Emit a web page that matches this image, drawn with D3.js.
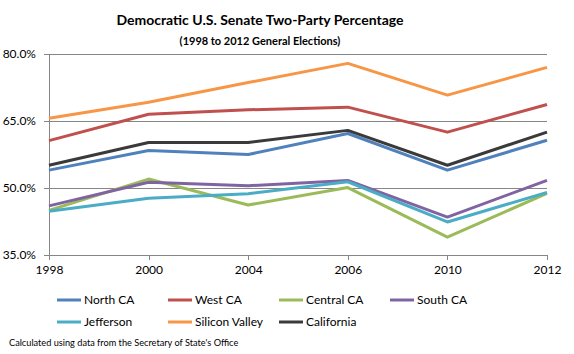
<!DOCTYPE html>
<html>
<head>
<meta charset="utf-8">
<script src="https://cdn.jsdelivr.net/npm/d3@7"></script>
<style>
  body { margin: 0; background: #fff; }
  svg { display: block; font-family: "Lato", sans-serif; }
</style>
</head>
<body>
<div id="chart"></div>
<script>
const width = 574;
const height = 354;

// election years (categories, evenly spaced)
const years = ["1998", "2000", "2004", "2006", "2010", "2012"];
const yTicks = [35, 50, 65, 80];

// series values
const seriesNames = ["North CA", "West CA", "Central CA", "South CA", "Jefferson", "Silicon Valley", "California"];
const northCA = [54.0, 58.4, 57.5, 62.2, 54.0, 60.7];
const westCA = [60.6, 66.5, 67.5, 68.1, 62.5, 68.7];
const centralCA = [45.0, 52.0, 46.2, 50.1, 39.0, 48.8];
const southCA = [46.0, 51.3, 50.5, 51.7, 43.5, 51.7];
const jefferson = [44.8, 47.7, 48.7, 51.4, 42.4, 49.0];
const siliconValley = [65.6, 69.2, 73.6, 77.9, 70.8, 77.0];
const california = [55.1, 60.2, 60.2, 62.9, 55.1, 62.5];
const seriesValues = [northCA, westCA, centralCA, southCA, jefferson, siliconValley, california];
const colors = ["#4F81BD", "#C0504D", "#9BBB59", "#8064A2", "#4BACC6", "#F79646", "#3A3A3A"];

const margin = { left: 49, right: 27, top: 54, bottom: 99 };

const svg = d3.select("#chart").append("svg")
  .attr("width", width)
  .attr("height", height);

const x = d3.scalePoint()
  .domain(years)
  .range([margin.left, width - margin.right]);

const y = d3.scaleLinear()
  .domain([35, 80])
  .range([height - margin.bottom, margin.top]);

// Titles
svg.append("text")
  .attr("x", 260).attr("y", 25)
  .attr("text-anchor", "middle")
  .style("font-size", "14px").style("font-weight", "bold")
  .attr("fill", "#000")
  .text("Democratic U.S. Senate Two-Party Percentage");

svg.append("text")
  .attr("x", 260).attr("y", 45)
  .attr("text-anchor", "middle")
  .style("font-size", "11px").style("font-weight", "bold")
  .attr("fill", "#000")
  .text("(1998 to 2012 General Elections)");

// Gridlines
svg.append("g")
  .selectAll("line")
  .data(yTicks.filter(d => d > 35))
  .join("line")
  .attr("x1", margin.left).attr("x2", width - margin.right)
  .attr("y1", d => y(d)).attr("y2", d => y(d))
  .attr("stroke", "#868686").attr("stroke-width", 1)
  .attr("shape-rendering", "crispEdges");

// Y axis
const yAxis = svg.append("g")
  .attr("transform", `translate(${margin.left},0)`)
  .call(d3.axisLeft(y).tickValues(yTicks).tickSize(5).tickPadding(8)
    .tickFormat(d => d.toFixed(1) + "%"));

// X axis
const xAxis = svg.append("g")
  .attr("transform", `translate(0,${height - margin.bottom})`)
  .call(d3.axisBottom(x).tickSize(5).tickPadding(5).tickSizeOuter(0));

[yAxis, xAxis].forEach(ax => {
  ax.select(".domain").attr("stroke", "#868686").attr("shape-rendering", "crispEdges");
  ax.selectAll(".tick line").attr("stroke", "#868686").attr("shape-rendering", "crispEdges");
  ax.selectAll("text").attr("fill", "#000").style("font-size", "12px")
    .style("font-family", "\"Lato\", sans-serif");
});
yAxis.select(".domain").attr("d", `M0,${y(80)}V${y(35)}`);

// Lines
const line = d3.line()
  .x((d, i) => x(years[i]))
  .y(d => y(d));

svg.append("g")
  .selectAll("path")
  .data(seriesValues)
  .join("path")
  .attr("d", line)
  .attr("fill", "none")
  .attr("stroke", (d, i) => colors[i])
  .attr("stroke-width", 3)
  .attr("stroke-linejoin", "round");

// Legend (4 per row)
const legend = svg.append("g");
const item = legend.selectAll("g")
  .data(seriesNames)
  .join("g")
  .attr("transform", (d, i) => `translate(${57 + (i % 4) * 111},${300 + Math.floor(i / 4) * 22})`);

item.append("line")
  .attr("x1", 0).attr("x2", 24)
  .attr("stroke", (d, i) => colors[i])
  .attr("stroke-width", 3);

item.append("text")
  .attr("x", 27).attr("dy", "0.35em")
  .style("font-size", "12px")
  .attr("fill", "#000")
  .text(d => d);

// Footnote
svg.append("text")
  .attr("x", 9).attr("y", 346)
  .style("font-size", "9.2px")
  .attr("fill", "#000")
  .text("Calculated using data from the Secretary of State's Office");
</script>
</body>
</html>
